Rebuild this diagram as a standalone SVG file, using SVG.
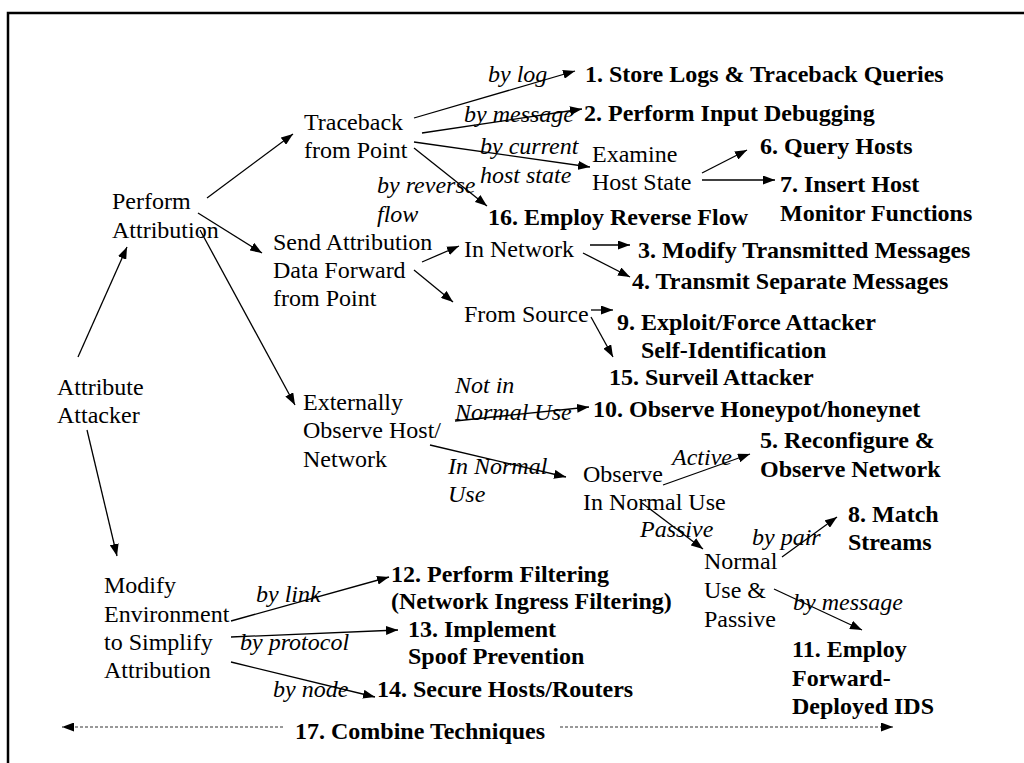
<svg xmlns="http://www.w3.org/2000/svg" width="1024" height="763" viewBox="0 0 1024 763">
<style>
text{font-family:"Liberation Serif","Times New Roman",serif;font-size:24px;fill:#000}
.b{font-weight:bold}
.i{font-style:italic}
.c line{stroke:#000;stroke-width:1.3;marker-end:url(#a)}
.c line.d{stroke:#333;stroke-width:1;stroke-dasharray:3 2}
</style>
<defs>
<marker id="a" markerWidth="12" markerHeight="9" refX="12" refY="4.5" orient="auto" markerUnits="userSpaceOnUse"><path d="M0,0 L12,4.5 L0,9 z" fill="#000"/></marker>
</defs>
<rect width="1024" height="763" fill="#fff"/>
<path d="M8,763 V13 H1024" fill="none" stroke="#000" stroke-width="2.5"/>
<g class="c" id="connectors">
<line x1="78" y1="357" x2="127" y2="247"/>
<line x1="87" y1="430" x2="117" y2="556"/>
<line x1="207" y1="198" x2="293" y2="134"/>
<line x1="198" y1="213" x2="262" y2="253"/>
<line x1="200" y1="230" x2="295" y2="405"/>
<line x1="414" y1="118" x2="575" y2="71"/>
<line x1="422" y1="133" x2="582" y2="109"/>
<line x1="414" y1="142" x2="590" y2="167"/>
<line x1="414" y1="148" x2="487" y2="206"/>
<line x1="702" y1="173" x2="747" y2="150"/>
<line x1="702" y1="180" x2="775" y2="180"/>
<line x1="422" y1="262" x2="459" y2="246"/>
<line x1="414" y1="270" x2="453" y2="302"/>
<line x1="590" y1="245" x2="630" y2="245"/>
<line x1="583" y1="253" x2="630" y2="277"/>
<line x1="591" y1="310" x2="613" y2="310"/>
<line x1="591" y1="317" x2="613" y2="357"/>
<line x1="455" y1="421" x2="589" y2="407"/>
<line x1="430" y1="445" x2="566" y2="477"/>
<line x1="663" y1="485" x2="750" y2="454"/>
<line x1="642" y1="503" x2="703" y2="549"/>
<line x1="782" y1="557" x2="837" y2="517"/>
<line x1="774" y1="589" x2="862" y2="630"/>
<line x1="231" y1="621" x2="389" y2="577"/>
<line x1="231" y1="637" x2="398" y2="630"/>
<line x1="231" y1="662" x2="375" y2="697"/>
<line class="d" x1="283" y1="727" x2="62" y2="727"/>
<line class="d" x1="560" y1="727" x2="893" y2="727"/>
</g>
<g id="attribute-attacker"><text x="57" y="395">Attribute</text><text x="57" y="423">Attacker</text></g>
<g id="perform-attribution"><text x="112" y="209">Perform</text><text x="112" y="238">Attribution</text></g>
<g id="traceback"><text x="304" y="130">Traceback</text><text x="304" y="158">from Point</text></g>
<g id="send-forward"><text x="273" y="250">Send Attribution</text><text x="273" y="278">Data Forward</text><text x="273" y="306">from Point</text></g>
<g id="externally"><text x="303" y="410">Externally</text><text x="303" y="438">Observe Host/</text><text x="303" y="467">Network</text></g>
<g id="modify-env"><text x="104" y="593">Modify</text><text x="104" y="622">Environment</text><text x="104" y="650">to Simplify</text><text x="104" y="678">Attribution</text></g>
<g id="examine"><text x="592" y="162">Examine</text><text x="592" y="190">Host State</text></g>
<g id="in-network"><text x="464" y="257">In Network</text></g>
<g id="from-source"><text x="464" y="322">From Source</text></g>
<g id="observe-normal"><text x="583" y="482">Observe</text><text x="583" y="510">In Normal Use</text></g>
<g id="normal-passive"><text x="704" y="569">Normal</text><text x="704" y="598">Use &amp;</text><text x="704" y="627">Passive</text></g>
<g id="labels" class="i">
<text class="i" x="488" y="82">by log</text>
<text class="i" x="464" y="122">by message</text>
<text class="i" x="480" y="154">by current</text>
<text class="i" x="480" y="183">host state</text>
<text class="i" x="377" y="193">by reverse</text>
<text class="i" x="377" y="222">flow</text>
<text class="i" x="455" y="393">Not in</text>
<text class="i" x="455" y="420">Normal Use</text>
<text class="i" x="448" y="474">In Normal</text>
<text class="i" x="448" y="502">Use</text>
<text class="i" x="672" y="465">Active</text>
<text class="i" x="640" y="537">Passive</text>
<text class="i" x="752" y="545">by pair</text>
<text class="i" x="793" y="610">by message</text>
<text class="i" x="256" y="602">by link</text>
<text class="i" x="240" y="650">by protocol</text>
<text class="i" x="273" y="697">by node</text>
</g>
<g id="t1"><text class="b" x="585" y="82">1. Store Logs &amp; Traceback Queries</text></g>
<g id="t2"><text class="b" x="584" y="121">2. Perform Input Debugging</text></g>
<g id="t6"><text class="b" x="760" y="154">6. Query Hosts</text></g>
<g id="t7"><text class="b" x="780" y="192">7. Insert Host</text><text class="b" x="780" y="221">Monitor Functions</text></g>
<g id="t16"><text class="b" x="488" y="225">16. Employ Reverse Flow</text></g>
<g id="t3"><text class="b" x="638" y="258">3. Modify Transmitted Messages</text></g>
<g id="t4"><text class="b" x="632" y="289">4. Transmit Separate Messages</text></g>
<g id="t9"><text class="b" x="617" y="330">9. Exploit/Force Attacker</text><text class="b" x="641" y="358">Self-Identification</text></g>
<g id="t15"><text class="b" x="609" y="385">15. Surveil Attacker</text></g>
<g id="t10"><text class="b" x="593" y="417">10. Observe Honeypot/honeynet</text></g>
<g id="t5"><text class="b" x="760" y="448">5. Reconfigure &amp;</text><text class="b" x="760" y="477">Observe Network</text></g>
<g id="t8"><text class="b" x="848" y="522">8. Match</text><text class="b" x="848" y="550">Streams</text></g>
<g id="t11"><text class="b" x="792" y="657">11. Employ</text><text class="b" x="792" y="686">Forward-</text><text class="b" x="792" y="714">Deployed IDS</text></g>
<g id="t12"><text class="b" x="391" y="582">12. Perform Filtering</text><text class="b" x="391" y="609">(Network Ingress Filtering)</text></g>
<g id="t13"><text class="b" x="408" y="637">13. Implement</text><text class="b" x="408" y="664">Spoof Prevention</text></g>
<g id="t14"><text class="b" x="377" y="697">14. Secure Hosts/Routers</text></g>
<g id="t17"><text class="b" x="295" y="739">17. Combine Techniques</text></g>
</svg>
